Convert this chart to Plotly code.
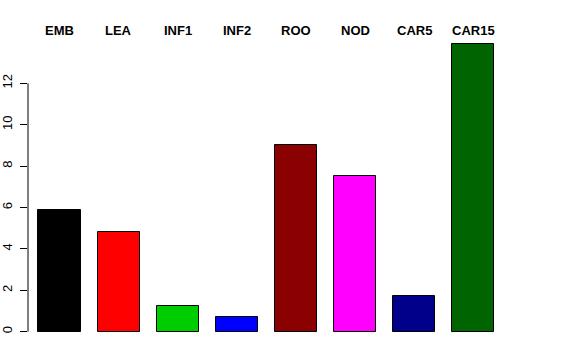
import plotly.graph_objects as go

categories = ["EMB", "LEA", "INF1", "INF2", "ROO", "NOD", "CAR5", "CAR15"]
values = [5.9, 4.8, 1.25, 0.72, 9.0, 7.5, 1.73, 13.9]
colors = ["#000000", "#FF0000", "#00CD00", "#0000FF", "#8B0000", "#FF00FF", "#00008B", "#006400"]
ytick_vals = [0, 2, 4, 6, 8, 10, 12]

xpos = list(range(len(categories)))

fig = go.Figure()
fig.add_trace(go.Bar(
    x=xpos, y=values, width=0.714,
    marker=dict(color=colors, line=dict(color="#000000", width=1)),
    showlegend=False, hoverinfo="skip",
))

for xi, lab in zip(xpos, categories):
    fig.add_annotation(
        x=xi, y=1, xref="x", yref="paper", text="<b>%s</b>" % lab,
        showarrow=False, yanchor="middle", yshift=0,
        font=dict(family="Liberation Sans, Arial, sans-serif", size=13, color="#000000"),
    )

fig.add_shape(type="line", xref="paper", yref="y", x0=0, x1=0,
              y0=ytick_vals[0], y1=ytick_vals[-1],
              line=dict(color="#000000", width=1))

fig.update_layout(
    width=576, height=360,
    margin=dict(l=28, r=72, t=30, b=18, pad=0, autoexpand=False),
    paper_bgcolor="white", plot_bgcolor="white",
    bargap=0,
    xaxis=dict(range=[-0.533, 7.521], showticklabels=False, ticks="",
               showgrid=False, zeroline=False, showline=False, automargin=False),
    yaxis=dict(range=[-0.498, 14.575], tickvals=ytick_vals,
               ticktext=[str(v) for v in ytick_vals], automargin=False,
               ticks="outside", ticklen=7, tickcolor="#000000", tickwidth=1,
               ticklabelstandoff=3,
               tickangle=-90, showgrid=False, zeroline=False, showline=False,
               tickfont=dict(family="Liberation Sans, Arial, sans-serif", size=13, color="#000000")),
)

fig.write_html("out.html")
